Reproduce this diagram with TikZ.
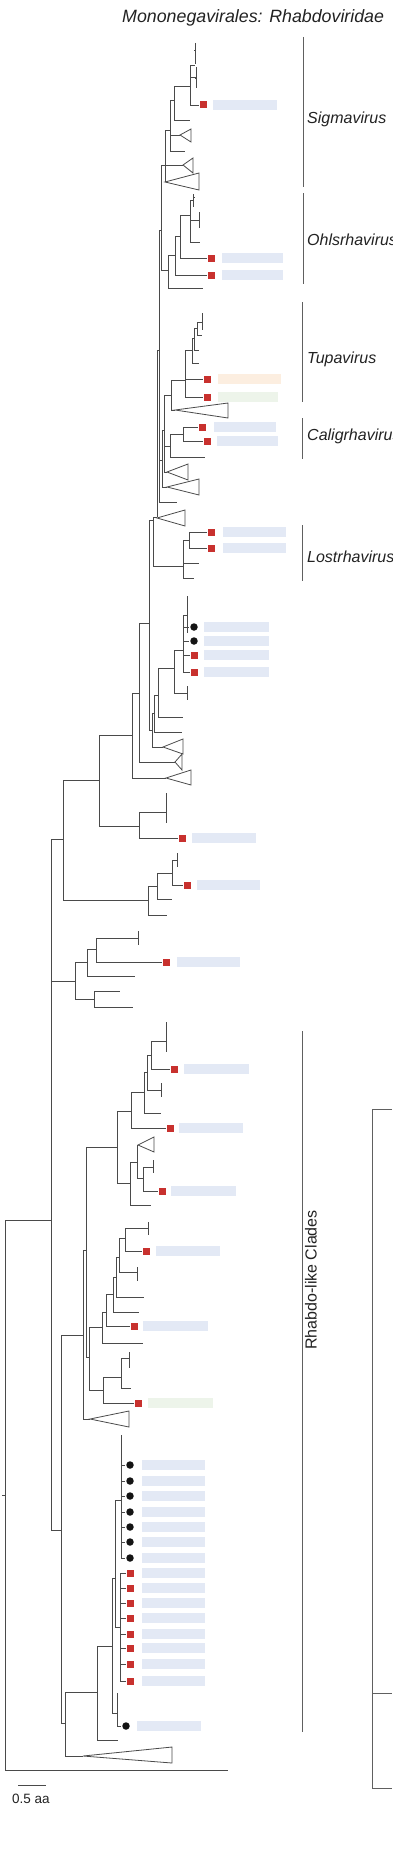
\documentclass[tikz,border=0pt]{standalone}
\usepackage{fontspec}
\setmainfont{Liberation Sans}
\definecolor{treegray}{HTML}{4A4A4A}
\definecolor{sqred}{HTML}{C8312E}
\definecolor{barblue}{HTML}{E3E9F5}
\definecolor{barorange}{HTML}{FCEEE0}
\definecolor{bargreen}{HTML}{EDF4EA}
\definecolor{txt}{HTML}{222222}
\tikzset{
  tree/.style={draw=treegray, line width=0.8pt},
  redsq/.style={fill=sqred, draw=none, minimum size=7pt, inner sep=0pt, outer sep=0pt},
  blkdot/.style={circle, fill=black!92, draw=none, minimum size=7.5pt, inner sep=0pt, outer sep=0pt},
  brk/.style={draw=gray!75!black, line width=0.8pt},
  clade/.style={font=\fontsize{16}{16}\selectfont\itshape, text=txt, anchor=base west, inner sep=0pt},
}
\newcommand\TE[4]{\draw[tree] (#1,#2) |- (#3,#4);}
\newcommand\TL[3]{\draw[tree] (#1,#2) |- ([xshift=-1pt]#3.west);}
\newcommand\Tr[5]{\draw[tree, line join=miter] (#1,#2) -- (#3,#4) -- (#3,#5) -- cycle;}
\newcommand\Bb[3]{\fill[barblue] (#1,#3-5) rectangle (#2,#3+5);}
\newcommand\Bc[4]{\fill[#4] (#1,#3-5) rectangle (#2,#3+5);}
\newcommand\RS[3]{\node[redsq] (#1) at (#2,#3) {};}
\newcommand\BD[3]{\node[blkdot] (#1) at (#2,#3) {};}
\begin{document}
\begin{tikzpicture}[x=1pt,y=-1pt]
\useasboundingbox (0,0) rectangle (392,1857);
% ---------- title ----------
\node[font=\fontsize{17.8}{18}\selectfont\itshape, text=txt, anchor=base west, inner sep=0pt] (title) at (122,22.7) {Mononegavirales: Rhabdoviridae};
% ---------- bars ----------
\Bb{213}{277}{105}
\Bb{222}{283}{258} \Bb{222}{283}{275}
\Bc{218}{281}{379}{barorange} \Bc{218}{278}{397}{bargreen}
\Bb{214}{276}{427} \Bb{217}{278}{441}
\Bb{223}{286}{532} \Bb{223}{286}{548}
\Bb{204}{269}{627} \Bb{204}{269}{641} \Bb{204}{269}{655} \Bb{204}{269}{672}
\Bb{192}{256}{838} \Bb{197}{260}{885} \Bb{177}{240}{962}
\Bb{184}{249}{1069} \Bb{179}{243}{1128} \Bb{171}{236}{1191} \Bb{156}{220}{1251} \Bb{143}{208}{1326}
\Bc{148}{213}{1403}{bargreen}
\foreach \y in {1465,1481,1496,1512,1527,1542,1558,1573,1588,1603,1618,1634,1648,1664,1681} {\Bb{142}{205}{\y}}
\Bb{137}{201}{1726}
% ---------- markers ----------
\RS{ma}{203}{105}
\RS{mb}{211}{258} \RS{mc}{211}{275}
\RS{md}{207}{379} \RS{me}{207}{397}
\RS{mf}{202}{427} \RS{mg}{207}{441}
\RS{mh}{211}{532} \RS{mi}{211}{548}
\BD{ka}{194}{627} \BD{kb}{194}{641} \RS{kc}{194}{655} \RS{kd}{194}{672}
\RS{mj}{182}{838} \RS{mk}{187}{885} \RS{ml}{166}{962}
\RS{ra}{174}{1069} \RS{rb}{170}{1128} \RS{rc}{162}{1191} \RS{rd}{146}{1251} \RS{re}{134}{1326} \RS{rf}{138}{1403}
\BD{d1}{130}{1465} \BD{d2}{130}{1481} \BD{d3}{130}{1496} \BD{d4}{130}{1512} \BD{d5}{130}{1527} \BD{d6}{130}{1542} \BD{d7}{130}{1558}
\RS{s1}{130}{1573} \RS{s2}{130}{1588} \RS{s3}{130}{1603} \RS{s4}{130}{1618} \RS{s5}{130}{1634} \RS{s6}{130}{1648} \RS{s7}{130}{1664} \RS{s8}{130}{1681}
\BD{d8}{126}{1726}
% ---------- Sigmavirus ----------
\draw[tree] (195,43)--(195,64); \draw[tree] (196,67)--(196,88);
\draw[tree] (194,50)--(196,50); \draw[tree] (195,78)--(197,78);
\TE{190}{86}{195}{65} \TE{190}{86}{196}{77} \TL{190}{86}{ma}
\TE{174}{100}{190}{86} \TE{174}{100}{190}{120}
\TE{170}{130}{174}{100} \TE{170}{130}{180}{135} \TE{170}{130}{185}{151}
\Tr{180}{135}{191}{129}{142}
\TE{165}{165}{170}{130} \TE{165}{165}{183}{165} \TE{165}{165}{165}{182}
\Tr{183}{165}{193}{158}{173}
\Tr{165}{182}{199}{173}{190}
% ---------- Ohlsrhavirus ----------
\draw[tree] (193,194)--(193,207); \draw[tree] (193,197)--(195,197);
\TE{190}{215}{193}{200} \TE{190}{215}{199}{220} \TE{190}{215}{200}{242}
\draw[tree] (199,212)--(199,228);
\TE{180}{236}{190}{215} \TL{180}{236}{mb}
\TE{175}{255}{180}{236} \TL{175}{255}{mc}
\TE{168}{270}{175}{255} \TE{168}{270}{203}{288}
\TE{161}{230}{165}{165} \TE{161}{230}{168}{270}
% ---------- Tupavirus ----------
\draw[tree] (202,313)--(202,330);
\TE{197}{328}{202}{322} \TE{197}{328}{202}{335}
\TE{194}{338}{197}{328} \TE{194}{338}{199}{350}
\TE{192}{350}{194}{338} \TE{192}{350}{199}{363}
\TE{185}{375}{192}{350} \TL{185}{375}{md} \TL{185}{375}{me}
\TE{171}{395}{185}{380} \TE{171}{395}{175}{410}
\Tr{175}{410}{228}{403}{418}
% ---------- Caligrhavirus ----------
\TL{183}{434}{mf} \TL{183}{434}{mg}
\TE{170}{446}{183}{434} \TE{170}{446}{205}{457}
% ---------- backbone ----------
\TE{164}{430}{171}{395} \TE{164}{430}{170}{446} \TE{164}{430}{167}{472}
\Tr{167}{472}{188}{464}{480}
\TE{162}{460}{164}{430} \TE{162}{460}{167}{487}
\Tr{167}{487}{199}{479}{495}
\TE{159}{350}{161}{230} \TE{159}{350}{162}{460} \TE{159}{350}{177}{502}
\TE{157}{517}{159}{350}
\Tr{157}{518}{185}{510}{526}
% ---------- Lostrhavirus ----------
\TL{189}{540}{mh} \TL{189}{540}{mi}
\TE{183}{566}{189}{540} \TE{183}{566}{199}{563} \TE{183}{566}{194}{578}
\TE{153}{540}{157}{517} \TE{153}{540}{183}{566}
% ---------- unassigned rhabdoviruses ----------
\draw[tree] (187,596)--(187,633);
\TE{183}{640}{187}{615} \TL{183}{640}{ka} \TL{183}{640}{kb} \TL{183}{640}{kc} \TL{183}{640}{kd}
\TE{174}{668}{183}{650} \TE{174}{668}{187}{693} \draw[tree] (187,686)--(187,700);
\TE{158}{695}{174}{668} \TE{158}{695}{183}{717}
\TE{154}{713}{158}{695} \TE{154}{713}{182}{732}
\TE{152}{730}{154}{713} \TE{152}{730}{163}{747}
\Tr{163}{747}{183}{739}{754}
\TE{149}{623}{153}{520} \TE{149}{623}{152}{730}
\TE{139}{693}{149}{623} \TE{139}{693}{175}{762}
\Tr{175}{762}{182}{754}{770}
\TE{132}{735}{139}{693} \TE{132}{735}{166}{778}
\Tr{166}{778}{191}{770}{785}
\TE{139}{826}{166}{812} \draw[tree] (166,793)--(166,823); \TL{139}{826}{mj}
\TE{99}{780}{132}{735} \TE{99}{780}{139}{826}
\TE{172}{873}{177}{860} \draw[tree] (177,853)--(177,867); \TL{172}{873}{mk}
\TE{157}{886}{172}{873} \TE{157}{886}{172}{899}
\TE{148}{900}{157}{886} \TE{148}{900}{167}{915}
\TE{63}{839}{99}{780} \TE{63}{839}{148}{900}
% ---------- small clade ----------
\TE{96}{949}{138}{938} \draw[tree] (138,931)--(138,945); \TL{96}{949}{ml}
\TE{87}{962}{96}{949} \TE{87}{962}{135}{976}
\TE{94}{999}{120}{991} \TE{94}{999}{133}{1007}
\TE{75}{981}{87}{962} \TE{75}{981}{94}{999}
% ---------- Rhabdo-like clades ----------
\TE{151}{1055}{166}{1041} \draw[tree] (166,1022)--(166,1052); \TL{151}{1055}{ra}
\TE{147}{1072}{151}{1055} \TE{147}{1072}{161}{1090} \draw[tree] (161,1083)--(161,1097);
\TE{144}{1092}{147}{1072} \TE{144}{1092}{161}{1113}
\TE{131}{1111}{144}{1092} \TL{131}{1111}{rb}
\TE{143}{1178}{153}{1167} \draw[tree] (153,1160)--(153,1173); \TL{143}{1178}{rc}
\TE{137}{1162}{138}{1145} \TE{137}{1162}{143}{1178}
\Tr{138}{1145}{154}{1137}{1152}
\TE{130}{1183}{137}{1162} \TE{130}{1183}{151}{1205}
\TE{117}{1147}{131}{1111} \TE{117}{1147}{130}{1183}
\TE{125}{1238}{148}{1228} \draw[tree] (148,1222)--(148,1235); \TL{125}{1238}{rd}
\TE{119}{1257}{125}{1238} \TE{119}{1257}{137}{1272} \draw[tree] (137,1267)--(137,1281);
\TE{116}{1277}{119}{1257} \TE{116}{1277}{144}{1297}
\TE{113}{1294}{116}{1277} \TE{113}{1294}{139}{1312}
\TE{106}{1312}{113}{1294} \TL{106}{1312}{re}
\TE{102}{1327}{106}{1312} \TE{102}{1327}{143}{1343}
\TE{121}{1377}{129}{1358} \draw[tree] (129,1352)--(129,1368); \TE{121}{1377}{131}{1388}
\TE{103}{1390}{121}{1377} \TL{103}{1390}{rf}
\TE{89}{1357}{102}{1327} \TE{89}{1357}{103}{1390}
\TE{86}{1250}{117}{1147} \TE{86}{1250}{89}{1357}
\TE{83}{1335}{86}{1250} \TE{83}{1335}{90}{1419}
\Tr{90}{1419}{129}{1411}{1427}
% dots / squares group
\draw[tree] (121,1435)--(121,1465);
\foreach \n in {d1,d2,d3,d4,d5,d6,d7} {\TL{121}{1500}{\n}}
\foreach \n in {s1,s2,s3,s4,s5,s6,s7,s8} {\TL{120}{1627}{\n}}
\TE{115}{1578}{121}{1500} \TE{115}{1578}{120}{1627}
\draw[tree] (117,1693)--(117,1713); \TL{117}{1713}{d8}
\TE{112}{1646}{115}{1578} \TE{112}{1646}{117}{1713}
\TE{97}{1692}{112}{1646} \TE{97}{1692}{118}{1740}
\TE{65}{1723}{97}{1692} \TE{65}{1723}{83}{1756}
\Tr{83}{1756}{172}{1747}{1763}
\TE{61}{1530}{83}{1335} \TE{61}{1530}{65}{1723}
% ---------- deep nodes ----------
\TE{51}{1220}{63}{839} \TE{51}{1220}{75}{981} \TE{51}{1220}{61}{1530}
\TE{5}{1495}{51}{1220} \TE{5}{1495}{228}{1770}
\draw[tree] (2,1495)--(5,1495);
% ---------- brackets and labels ----------
\draw[brk] (303,37)--(303,187);
\draw[brk] (303,193)--(303,284);
\draw[brk] (302,302)--(302,402);
\draw[brk] (302,418)--(302,459);
\draw[brk] (302,525)--(302,581);
\draw[brk] (302,1031)--(302,1732);
\node[clade] (lsig) at (307,124) {Sigmavirus};
\node[clade] (lohl) at (307,245) {Ohlsrhavirus};
\node[clade] (ltup) at (307,363) {Tupavirus};
\node[clade] (lcal) at (307,440) {Caligrhavirus};
\node[clade] (llos) at (307,562) {Lostrhavirus};
\node[font=\fontsize{16}{16}\selectfont, text=txt, rotate=90, anchor=base, inner sep=0pt] (lrl) at (316.5,1280) {Rhabdo-like Clades};
% ---------- next panel edge ----------
\draw[brk] (392,1109) -| (372,1788) -- (392,1788);
\draw[brk] (372,1693) -- (392,1693);
% ---------- scale ----------
\draw[tree] (18,1785)--(46,1785);
\node[font=\fontsize{13.5}{14}\selectfont, text=txt, anchor=base west, inner sep=0pt] (scale) at (12,1803) {0.5 aa};
\end{tikzpicture}
\end{document}
